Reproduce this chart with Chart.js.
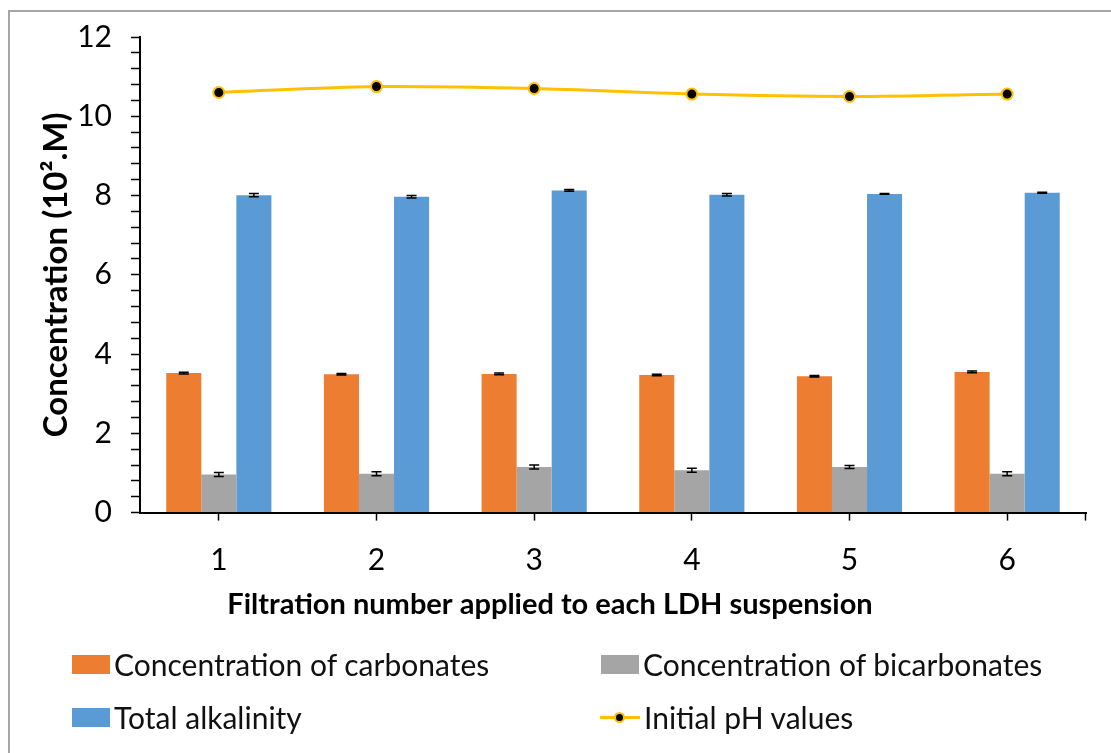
<!DOCTYPE html>
<html lang="en">
<head>
<meta charset="UTF-8">
<title>Filtration of LDH suspensions</title>
<script src="https://cdn.jsdelivr.net/npm/chart.js@4.4.1/dist/chart.umd.min.js"></script>
<style>
    html, body {
        margin: 0;
        padding: 0;
        background: #fff;
        overflow: hidden;
    }
    body {
        width: 1111px;
        height: 753px;
        position: relative;
        font-family: Lato, 'Open Sans', sans-serif;
    }
    /* frame around the figure, cut off at right and bottom */
    .frame {
        position: absolute;
        left: 8px;
        top: 10px;
        width: 1200px;
        height: 900px;
        border-left: 2px solid #a6a6a6;
        border-top: 2px solid #a6a6a6;
    }
    #wrap {
        position: absolute;
        left: 0;
        top: 0;
        width: 1111px;
        height: 753px;
    }
    .legend-item {
        position: absolute;
        height: 40px;
        display: flex;
        align-items: center;
        font-size: 30px;
        color: #111;
        white-space: nowrap;
    }
    .legend-item .swatch {
        width: 38px;
        height: 19px;
        margin-right: 4px;
    }
    .legend-item .lineKey {
        position: relative;
        width: 40px;
        height: 19px;
        margin-right: 4px;
    }
    .lineKey::before {
        content: '';
        position: absolute;
        left: 0; right: 0; top: 8px;
        height: 3px;
        background: #ffc000;
    }
    .lineKey::after {
        content: '';
        position: absolute;
        left: 14px; top: 4px;
        width: 7px; height: 7px;
        border-radius: 50%;
        background: #000;
        border: 2px solid #ffc000;
    }
</style>
</head>
<body>
<div class="frame"></div>
<div id="wrap"><canvas id="grafico" width="1111" height="753"></canvas></div>

<div class="legend-item" style="left:72px; top:644px;"><span class="swatch" style="background:#ed7d31"></span>Concentration of carbonates</div>
<div class="legend-item" style="left:601px; top:644px;"><span class="swatch" style="background:#a5a5a5"></span>Concentration of bicarbonates</div>
<div class="legend-item" style="left:72px; top:697px;"><span class="swatch" style="background:#5b9bd5"></span>Total alkalinity</div>
<div class="legend-item" style="left:600px; top:697px;"><span class="lineKey"></span>Initial pH values</div>

<script>
const filtracoes = ['1', '2', '3', '4', '5', '6'];

const carbonatos = [3.52, 3.49, 3.50, 3.47, 3.44, 3.55];
const carbonatosErro = [0.02, 0.02, 0.02, 0.02, 0.02, 0.02];

const bicarbonatos = [0.96, 0.98, 1.15, 1.07, 1.15, 0.98];
const bicarbonatosErro = [0.05, 0.05, 0.05, 0.05, 0.04, 0.05];

const alcalinidade = [8.01, 7.97, 8.13, 8.02, 8.04, 8.07];
const alcalinidadeErro = [0.04, 0.03, 0.02, 0.03, 0.01, 0.01];

const phInicial = [10.60, 10.75, 10.70, 10.56, 10.50, 10.56];

const FONTE = "Lato, 'Open Sans', sans-serif";

// barras de erro desenhadas por cima das colunas
const barrasErro = {
  id: 'barrasErro',
  afterDatasetsDraw(chart) {
    const ctx = chart.ctx;
    const y = chart.scales.y;
    chart.data.datasets.forEach((ds, i) => {
      if (!ds.erros) return;
      const meta = chart.getDatasetMeta(i);
      meta.data.forEach((bar, j) => {
        const v = ds.data[j], e = ds.erros[j];
        const yTop = y.getPixelForValue(v + e);
        const yBot = y.getPixelForValue(v - e);
        ctx.save();
        ctx.strokeStyle = '#000';
        ctx.lineWidth = 1.5;
        ctx.beginPath();
        ctx.moveTo(bar.x, yTop);
        ctx.lineTo(bar.x, yBot);
        ctx.moveTo(bar.x - 5, yTop);
        ctx.lineTo(bar.x + 5, yTop);
        ctx.moveTo(bar.x - 5, yBot);
        ctx.lineTo(bar.x + 5, yBot);
        ctx.stroke();
        ctx.restore();
      });
    });
    // tick no fim do eixo x
    const a = chart.chartArea;
    ctx.save();
    ctx.strokeStyle = '#000';
    ctx.lineWidth = 1.5;
    ctx.beginPath();
    ctx.moveTo(a.right - 0.5, a.bottom);
    ctx.lineTo(a.right - 0.5, a.bottom + 8);
    ctx.stroke();
    ctx.restore();
  }
};

new Chart(document.getElementById('grafico'), {
  type: 'bar',
  data: {
    labels: filtracoes,
    datasets: [
      {
        type: 'line',
        label: 'Initial pH values',
        data: phInicial,
        borderColor: '#ffc000',
        borderWidth: 3,
        tension: 0.3,
        pointRadius: 5.5,
        pointBackgroundColor: '#000',
        pointBorderColor: '#ffc000',
        pointBorderWidth: 2,
        order: 0
      },
      {
        label: 'Concentration of carbonates',
        data: carbonatos,
        erros: carbonatosErro,
        backgroundColor: '#ed7d31',
        order: 1
      },
      {
        label: 'Concentration of bicarbonates',
        data: bicarbonatos,
        erros: bicarbonatosErro,
        backgroundColor: '#a5a5a5',
        order: 1
      },
      {
        label: 'Total alkalinity',
        data: alcalinidade,
        erros: alcalinidadeErro,
        backgroundColor: '#5b9bd5',
        order: 1
      }
    ]
  },
  options: {
    responsive: false,
    animation: false,
    categoryPercentage: 0.667,
    barPercentage: 1,
    layout: {
      padding: { left: 14, right: 25, top: 34, bottom: 131 }
    },
    plugins: {
      legend: { display: false },
      tooltip: { enabled: false },
      title: {
        display: true,
        position: 'bottom',
        text: 'Filtration number applied to each LDH suspension',
        color: '#000',
        font: { family: FONTE, size: 29, weight: 'bold', lineHeight: 1.2 },
        padding: { top: 4.6, bottom: 0 }
      }
    },
    scales: {
      x: {
        afterFit: s => { s.height = 70; },
        grid: {
          offset: false,
          drawOnChartArea: false,
          tickLength: 8,
          tickWidth: 1.5,
          tickColor: '#000'
        },
        border: { color: '#000', width: 2 },
        ticks: {
          color: '#000',
          padding: 22,
          font: { family: FONTE, size: 30 }
        }
      },
      y: {
        min: 0,
        max: 12,
        afterFit: s => { s.width = 126; },
        grid: {
          drawOnChartArea: false,
          tickLength: 9,
          tickWidth: 1.5,
          tickColor: '#000'
        },
        border: { color: '#000', width: 2 },
        ticks: {
          stepSize: 0.4,
          autoSkip: false,
          color: '#000',
          padding: 19,
          font: { family: FONTE, size: 30 },
          callback: v => (Math.round(v * 10) % 20 === 0 ? Math.round(v) : '')
        },
        title: {
          display: true,
          text: 'Concentration (10².M)',
          color: '#000',
          font: { family: FONTE, size: 33, weight: 'bold', lineHeight: 1.2 },
          padding: { top: 23, bottom: 0 }
        }
      }
    }
  },
  plugins: [barrasErro]
});
</script>
</body>
</html>
